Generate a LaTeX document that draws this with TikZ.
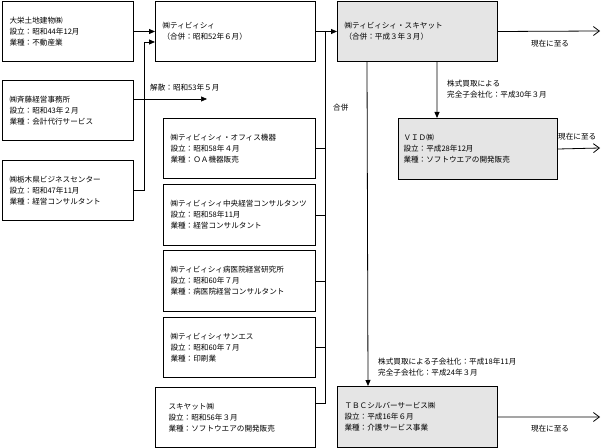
\documentclass[tikz,border=0pt]{standalone}
\usepackage{fontspec}
\setmainfont{Noto Sans CJK JP}
\usetikzlibrary{arrows.meta}
\definecolor{boxgray}{RGB}{229,229,229}
\begin{document}
\begin{tikzpicture}[x=1bp, y=-1bp, font=\fontsize{7.6bp}{11bp}\selectfont,
  box/.style={draw, line width=1bp, anchor=north west, align=left,
    inner xsep=7bp, minimum height=60bp},
  gbox/.style={box, fill=boxgray},
  line/.style={line width=0.8bp},
  arr/.style={line, -{Triangle[length=6bp,width=5bp]}},
  open/.style={line, -{Straight Barb[length=6bp,width=9bp]}},
  lbl/.style={anchor=west, align=left, inner sep=0pt}]
  \useasboundingbox (0,0) rectangle (601,448);
  % 前身会社
  \node[box, text width=117bp] (daiei) at (2,1) {大栄土地建物㈱\\設立：昭和44年12月\\業種：不動産業};
  \node[box, text width=117bp] (saito) at (2,80) {㈱斉藤経営事務所\\設立：昭和43年２月\\業種：会計代行サービス};
  \node[box, text width=117bp] (tochigi) at (2,160) {㈱栃木県ビジネスセンター\\設立：昭和47年11月\\業種：経営コンサルタント};
  % ティビィシィ
  \node[box, text width=146bp] (tbc) at (155,1) {㈱ティビィシィ\\（合併：昭和52年６月）};
  \draw[arr] (daiei.east) -- (daiei.east -| tbc.west);
  \coordinate (j1) at (144,42);
  \draw[arr] (tochigi.east) -| (j1) -- (j1 -| tbc.west);
  \coordinate (end1) at (207,99);
  \draw[line, -{Triangle[length=6bp,width=5bp]}, line width=0.6bp] (saito.east |- end1) -- (end1);
  \node[lbl] (kaisan) at (150,88) {解散：昭和53年５月};
  % 合併される子会社
  \node[box, text width=138bp] (office) at (163,118) {㈱ティビィシィ・オフィス機器\\設立：昭和58年４月\\業種：ＯＡ機器販売};
  \node[box, text width=138bp, minimum height=61bp] (chuo) at (163,184) {㈱ティビィシィ中央経営コンサルタンツ\\設立：昭和58年11月\\業種：経営コンサルタント};
  \node[box, text width=138bp, minimum height=61bp] (byoin) at (163,250) {㈱ティビィシィ病医院経営研究所\\設立：昭和60年７月\\業種：病医院経営コンサルタント};
  \node[box, text width=138bp] (sanes) at (163,317) {㈱ティビィシィサンエス\\設立：昭和60年７月\\業種：印刷業};
  \node[box, text width=134bp, inner xsep=13bp] (skyat) at (155,387) {スキヤット㈱\\設立：昭和56年３月\\業種：ソフトウエアの開発販売};
  % ティビィシィ・スキヤット
  \node[gbox, text width=146bp] (tbcsky) at (337,1) {㈱ティビィシィ・スキヤット\\（合併：平成３年３月）};
  \draw[arr] (tbc.east) -- (tbcsky.west);
  \coordinate (m) at (325,31);
  \draw[line] (m) |- ([yshift=-16bp]skyat.north east);
  \foreach \n in {office,chuo,byoin,sanes}
    \draw[line] (\n.east) -- (\n.east -| m);
  \node[lbl] (gappei) at (333,108) {合併};
  \coordinate (now1) at (600,31);
  \draw[open] (tbcsky.east) -- (now1);
  \node (genzai1) at (550,44) {現在に至る};
  % ＶＩＤ
  \node[gbox, text width=149bp, inner xsep=5bp, minimum height=61bp] (vid) at (398,118) {ＶＩＤ㈱\\設立：平成28年12月\\業種：ソフトウエアの開発販売};
  \draw[arr] ([xshift=100bp]tbcsky.south west) -- ([xshift=39bp]vid.north west);
  \node[lbl] (kabu1) at (447,89) {株式買取による\\完全子会社化：平成30年３月};
  \coordinate (now2) at (600,148);
  \draw[open] (vid.east) -- (now2);
  \node[lbl] (genzai2) at (558,137) {現在に至る};
  % ＴＢＣシルバーサービス
  \node[gbox, text width=146bp, minimum height=61bp] (silver) at (337,386) {ＴＢＣシルバーサービス㈱\\設立：平成16年６月\\業種：介護サービス事業};
  \draw[arr] ([xshift=30bp]tbcsky.south west) -- ([xshift=31bp]silver.north west);
  \node[lbl] (kabu2) at (378,367) {株式買取による子会社化：平成18年11月\\完全子会社化：平成24年３月};
  \coordinate (now3) at (600,417);
  \draw[open] (silver.east) -- (now3);
  \node (genzai3) at (550,429) {現在に至る};
\end{tikzpicture}
\end{document}
